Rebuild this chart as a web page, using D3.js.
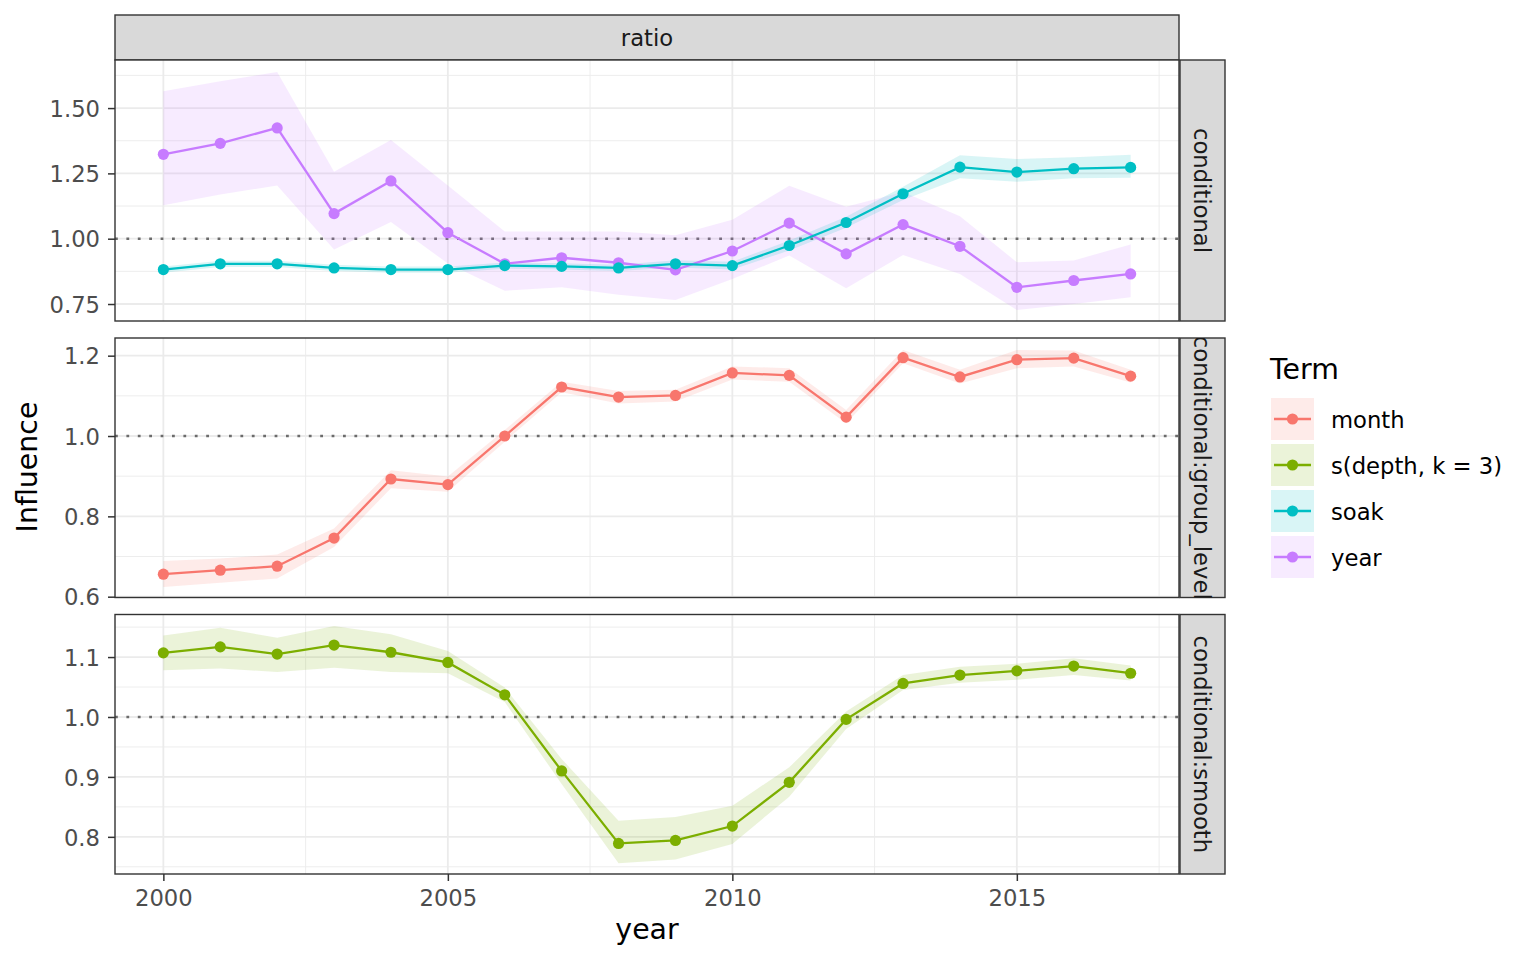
<!DOCTYPE html>
<html><head><meta charset="utf-8">
<script src="https://cdn.jsdelivr.net/npm/d3@7"></script>
<style>body{margin:0;background:#fff} svg{display:block} text{font-family:"DejaVu Sans",sans-serif}</style>
</head><body><svg id="c" width="1536" height="960"></svg>
<script>
// ---------------- data ----------------
const years = [2000,2001,2002,2003,2004,2005,2006,2007,2008,2009,2010,2011,2012,2013,2014,2015,2016,2017];
const terms = ["month", "s(depth, k = 3)", "soak", "year"];
const termColors = ["#F8766D", "#7CAE00", "#00BFC4", "#C77CFF"];

const monthVal = [0.656,0.666,0.676,0.746,0.893,0.879,1.000,1.122,1.097,1.101,1.157,1.151,1.047,1.195,1.147,1.190,1.194,1.149];
const monthLo  = [0.624,0.635,0.645,0.724,0.870,0.861,0.986,1.109,1.081,1.086,1.141,1.135,1.032,1.181,1.131,1.169,1.173,1.133];
const monthHi  = [0.689,0.695,0.705,0.770,0.915,0.899,1.015,1.135,1.112,1.115,1.173,1.169,1.065,1.214,1.165,1.214,1.213,1.165];

const depthVal = [1.107,1.117,1.105,1.120,1.108,1.091,1.037,0.910,0.789,0.794,0.818,0.891,0.996,1.056,1.070,1.077,1.085,1.073];
const depthLo  = [1.078,1.081,1.075,1.082,1.075,1.073,1.025,0.888,0.756,0.762,0.788,0.867,0.980,1.045,1.057,1.062,1.070,1.061];
const depthHi  = [1.136,1.149,1.132,1.152,1.138,1.110,1.049,0.930,0.827,0.833,0.852,0.916,1.009,1.070,1.084,1.089,1.098,1.086];

const soakVal = [0.882,0.904,0.904,0.888,0.882,0.882,0.897,0.894,0.888,0.904,0.897,0.974,1.062,1.172,1.274,1.255,1.268,1.273];
const soakLo  = [0.870,0.892,0.892,0.876,0.870,0.870,0.885,0.882,0.876,0.890,0.882,0.955,1.042,1.148,1.231,1.218,1.231,1.233];
const soakHi  = [0.894,0.916,0.916,0.900,0.894,0.894,0.909,0.906,0.900,0.918,0.912,0.993,1.084,1.199,1.319,1.305,1.312,1.321];

const yearVal = [1.323,1.365,1.424,1.096,1.221,1.023,0.904,0.927,0.908,0.881,0.953,1.060,0.942,1.054,0.971,0.814,0.840,0.865];
const yearLo  = [1.128,1.169,1.204,0.959,1.064,0.905,0.801,0.814,0.785,0.765,0.846,0.936,0.810,0.938,0.865,0.727,0.750,0.776];
const yearHi  = [1.564,1.603,1.638,1.256,1.378,1.204,1.028,1.028,1.028,1.013,1.073,1.203,1.122,1.179,1.086,0.910,0.917,0.978];

const facetLabels = ["conditional", "conditional:group_level", "conditional:smooth"];
const colStrip = "ratio";
const facetTerms = [["year", "soak"], ["month"], ["s(depth, k = 3)"]];
const yDomains = [[0.685, 1.684], [0.598, 1.244], [0.738, 1.171]];
const yMajor = [[0.75, 1.00, 1.25, 1.50], [0.6, 0.8, 1.0, 1.2], [0.8, 0.9, 1.0, 1.1]];
const yMinor = [[0.875, 1.125, 1.375, 1.625], [0.7, 0.9, 1.1], [0.75, 0.85, 0.95, 1.05, 1.15]];
const yFormats = [".2f", ".1f", ".1f"];
const xDomain = [1999.15, 2017.85];
const xMajor = [2000, 2005, 2010, 2015];
const xMinor = [2002.5, 2007.5, 2012.5, 2017.5];
const refValue = 1;
const xTitle = "year", yTitle = "Influence", legendTitle = "Term";

const seriesByTerm = {
  "month": {val: monthVal, lo: monthLo, hi: monthHi},
  "s(depth, k = 3)": {val: depthVal, lo: depthLo, hi: depthHi},
  "soak": {val: soakVal, lo: soakLo, hi: soakHi},
  "year": {val: yearVal, lo: yearLo, hi: yearHi}
};

// ---------------- layout ----------------
const svg = d3.select("#c");
const L = 115, R = 1179;
const panelTop = [60, 338, 614.5], panelBot = [321, 597.5, 874];
const stripW = 45;
const color = d3.scaleOrdinal().domain(terms).range(termColors);
const x = d3.scaleLinear().domain(xDomain).range([L, R]);
const grey20 = "#333333";
const fs = 22.7, fsTitle = 28.4;

// top strip
svg.append("rect").attr("x", L).attr("y", 15).attr("width", R - L).attr("height", 45)
  .attr("fill", "#d9d9d9").attr("stroke", grey20).attr("stroke-width", 1.4);
svg.append("text").attr("x", (L + R) / 2).attr("y", 46).attr("text-anchor", "middle")
  .attr("font-size", fs).attr("fill", "#1a1a1a").text(colStrip);

const defs = svg.append("defs");

facetLabels.forEach((lab, i) => {
  const top = panelTop[i], bot = panelBot[i];
  const y = d3.scaleLinear().domain(yDomains[i]).range([bot, top]);
  const g = svg.append("g");
  const cid = "clip" + i;
  defs.append("clipPath").attr("id", cid).append("rect")
    .attr("x", L).attr("y", top).attr("width", R - L).attr("height", bot - top);

  g.append("rect").attr("x", L).attr("y", top).attr("width", R - L).attr("height", bot - top).attr("fill", "#fff");
  const grid = g.append("g").attr("clip-path", `url(#${cid})`);
  // minor grid
  grid.selectAll(".ymin").data(yMinor[i]).join("line")
    .attr("x1", L).attr("x2", R).attr("y1", d => y(d)).attr("y2", d => y(d))
    .attr("stroke", "#ebebeb").attr("stroke-width", 0.9);
  grid.selectAll(".xmin").data(xMinor).join("line")
    .attr("y1", top).attr("y2", bot).attr("x1", d => x(d)).attr("x2", d => x(d))
    .attr("stroke", "#ebebeb").attr("stroke-width", 0.9);
  // major grid
  grid.selectAll(".ymaj").data(yMajor[i]).join("line")
    .attr("x1", L).attr("x2", R).attr("y1", d => y(d)).attr("y2", d => y(d))
    .attr("stroke", "#ebebeb").attr("stroke-width", 1.8);
  grid.selectAll(".xmaj").data(xMajor).join("line")
    .attr("y1", top).attr("y2", bot).attr("x1", d => x(d)).attr("x2", d => x(d))
    .attr("stroke", "#ebebeb").attr("stroke-width", 1.8);

  const data = g.append("g").attr("clip-path", `url(#${cid})`);
  // reference line
  data.append("line").attr("x1", L).attr("x2", R).attr("y1", y(refValue)).attr("y2", y(refValue))
    .attr("stroke", "#6b6b6b").attr("stroke-width", 2.6).attr("stroke-dasharray", "2.8 8.6");

  const ts = facetTerms[i];
  const area = d3.area().x((d, k) => x(years[k])).y0(d => y(d[0])).y1(d => y(d[1]));
  const line = d3.line().x((d, k) => x(years[k])).y(d => y(d));
  ts.forEach(t => {
    const s = seriesByTerm[t];
    data.append("path").datum(s.lo.map((v, k) => [v, s.hi[k]]))
      .attr("d", area).attr("fill", color(t)).attr("fill-opacity", 0.15);
  });
  ts.forEach(t => {
    const s = seriesByTerm[t];
    data.append("path").datum(s.val).attr("d", line)
      .attr("fill", "none").attr("stroke", color(t)).attr("stroke-width", 2.3);
  });
  ts.forEach(t => {
    const s = seriesByTerm[t];
    data.selectAll(null).data(s.val).join("circle")
      .attr("cx", (d, k) => x(years[k])).attr("cy", d => y(d)).attr("r", 5.6).attr("fill", color(t));
  });

  // panel border
  g.append("rect").attr("x", L).attr("y", top).attr("width", R - L).attr("height", bot - top)
    .attr("fill", "none").attr("stroke", grey20).attr("stroke-width", 1.4);

  // right strip
  const sid = "sclip" + i;
  defs.append("clipPath").attr("id", sid).append("rect")
    .attr("x", R + 1).attr("y", top).attr("width", stripW).attr("height", bot - top);
  g.append("rect").attr("x", R + 1).attr("y", top).attr("width", stripW).attr("height", bot - top)
    .attr("fill", "#d9d9d9").attr("stroke", grey20).attr("stroke-width", 1.4);
  g.append("g").attr("clip-path", `url(#${sid})`).append("text")
    .attr("transform", `translate(${R + 1 + stripW / 2 - 8.5},${(top + bot) / 2}) rotate(90)`)
    .attr("text-anchor", "middle").attr("font-size", fs).attr("fill", "#1a1a1a").text(lab);

  // y axis
  const ax = d3.axisLeft(y).tickValues(yMajor[i]).tickFormat(d3.format(yFormats[i])).tickSize(7).tickPadding(8);
  const ag = g.append("g").attr("transform", `translate(${L},0)`).call(ax);
  ag.select(".domain").remove();
  ag.selectAll(".tick line").attr("stroke", grey20).attr("stroke-width", 1.5);
  ag.selectAll(".tick text").attr("font-size", fs).attr("fill", "#4d4d4d")
    .attr("font-family", "DejaVu Sans").attr("dy", "0.36em");

  if (i === facetLabels.length - 1) {
    const bx = d3.axisBottom(x).tickValues(xMajor).tickFormat(d3.format("d")).tickSize(7).tickPadding(9);
    const bg = g.append("g").attr("transform", `translate(0,${bot})`).call(bx);
    bg.select(".domain").remove();
    bg.selectAll(".tick line").attr("stroke", grey20).attr("stroke-width", 1.5);
    bg.selectAll(".tick text").attr("font-size", fs).attr("fill", "#4d4d4d").attr("font-family", "DejaVu Sans");
  }
});

// axis titles
svg.append("text").attr("x", (L + R) / 2).attr("y", 939).attr("text-anchor", "middle")
  .attr("font-size", fsTitle).attr("fill", "#000").text(xTitle);
svg.append("text").attr("transform", `translate(37,${(panelTop[0] + panelBot[2]) / 2}) rotate(-90)`)
  .attr("text-anchor", "middle").attr("font-size", fsTitle).attr("fill", "#000").text(yTitle);

// legend
const lg = svg.append("g");
lg.append("text").attr("x", 1270).attr("y", 379).attr("font-size", fsTitle).attr("fill", "#000").text(legendTitle);
const keyX = 1271, keyW = 43, keyH = 42, key0 = 398, keyStep = 46;
terms.forEach((t, k) => {
  const ky = key0 + k * keyStep;
  lg.append("rect").attr("x", keyX).attr("y", ky).attr("width", keyW).attr("height", keyH)
    .attr("fill", color(t)).attr("fill-opacity", 0.15);
  lg.append("line").attr("x1", keyX + 3).attr("x2", keyX + keyW - 3)
    .attr("y1", ky + keyH / 2).attr("y2", ky + keyH / 2).attr("stroke", color(t)).attr("stroke-width", 2.3);
  lg.append("circle").attr("cx", keyX + keyW / 2).attr("cy", ky + keyH / 2).attr("r", 5.6).attr("fill", color(t));
  lg.append("text").attr("x", 1331).attr("y", ky + keyH / 2 + 8.5).attr("font-size", fs).attr("fill", "#000").text(t);
});
</script></body></html>
